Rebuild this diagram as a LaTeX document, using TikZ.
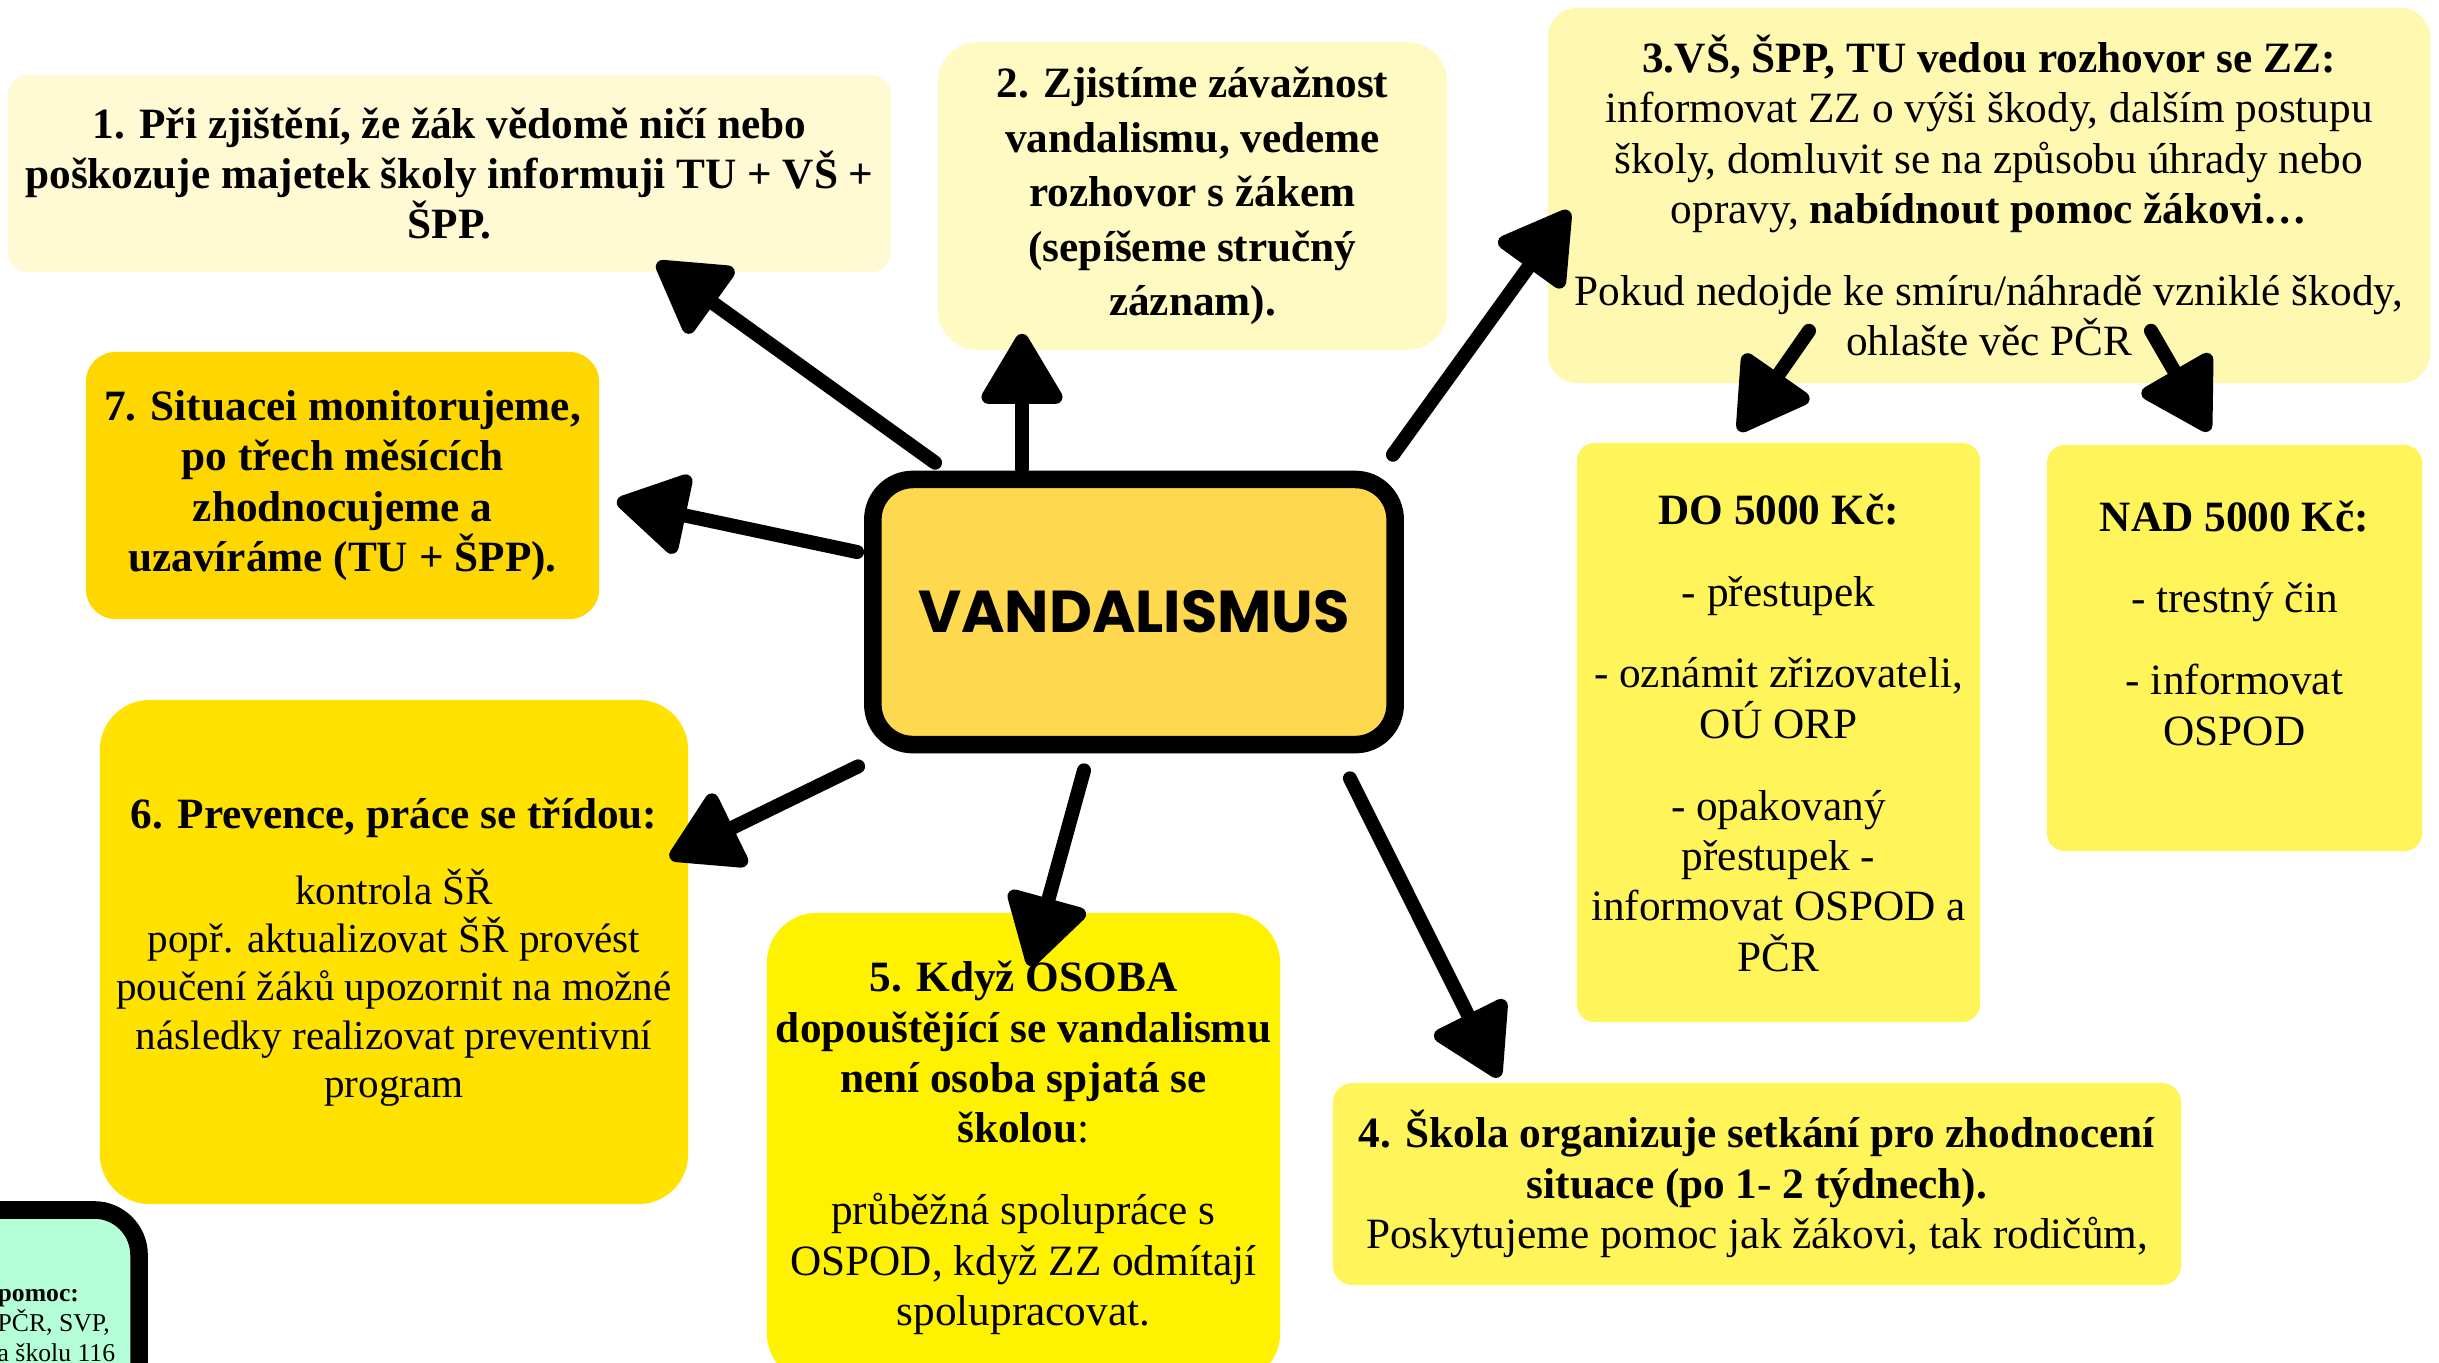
\documentclass[tikz,border=0pt]{standalone}
\usepackage{fontspec}
\setmainfont{Liberation Serif}
\newfontfamily\titlefont{Poppins}
\usetikzlibrary{arrows.meta,calc}

\definecolor{cream}{HTML}{FFFAD4}
\definecolor{paleyellow}{HTML}{FFF9C2}
\definecolor{lightyellow}{HTML}{FFF8B0}
\definecolor{lemon}{HTML}{FFF459}
\definecolor{brightyellow}{HTML}{FFF200}
\definecolor{sunyellow}{HTML}{FFE200}
\definecolor{gold}{HTML}{FFD700}
\definecolor{mustard}{HTML}{FED94F}
\definecolor{mint}{HTML}{B5FFD8}

\tikzset{
  card/.style={rounded corners=#1, inner sep=0pt, align=center,
    font=\fontsize{12.3}{14.3}\selectfont},
  card/.default=0.25cm,
  boldcard/.style={font=\bfseries\fontsize{12.3}{14.3}\selectfont},
  arr/.style={line width=4pt, line cap=round,
    -{Triangle[length=22pt,width=25pt,round]}},
}

\begin{document}
\begin{tikzpicture}[x=0.01cm,y=-0.01cm]
 \useasboundingbox (0,0) rectangle (2439,1362);
 \clip (0,0) rectangle (2439,1362);
 % boxes round the centre
 \node[card=0.2cm, fill=cream, boldcard, minimum width=8.83cm, minimum height=1.97cm] (zjisteni) at (449.5,173.5)
  {1. Při zjištění, že žák vědomě ničí nebo\\poškozuje majetek školy informuji TU + VŠ +\\ŠPP.};
 \node[card=0.4cm, fill=paleyellow, minimum width=5.09cm, minimum height=3.08cm,
  font=\bfseries\fontsize{12.3}{15.5}\selectfont] (zavaznost) at (1192.5,196)
  {2. Zjistíme závažnost\\vandalismu, vedeme\\rozhovor s žákem\\(sepíšeme stručný\\záznam).};
 \node[card=0.3cm, fill=lightyellow, minimum width=8.82cm, minimum height=3.75cm] (rozhovor) at (1989,195.5)
  {\textbf{3.VŠ, ŠPP, TU vedou rozhovor se ZZ:}\\informovat ZZ o výši škody, dalším postupu\\školy, domluvit se na způsobu úhrady nebo\\opravy, \textbf{nabídnout pomoc žákovi…}\\[9pt]
   Pokud nedojde ke smíru/náhradě vzniklé škody,\\ohlašte věc PČR};
 \node[card=0.18cm, fill=lemon, minimum width=4.03cm, minimum height=5.79cm] (do5000) at (1778.5,732.5)
  {\textbf{DO 5000 Kč:}\\[9pt]- přestupek\\[9pt]- oznámit zřizovateli,\\OÚ ORP\\[9pt]- opakovaný\\přestupek -\\informovat OSPOD a\\PČR};
 \node[card=0.18cm, fill=lemon, minimum width=3.75cm, minimum height=4.06cm] (nad5000) at (2234.5,648)
  {\textbf{NAD 5000 Kč:}\\[9pt]- trestný čin\\[9pt]- informovat\\OSPOD\\\mbox{}};
 \node[card=0.2cm, fill=lemon, minimum width=8.48cm, minimum height=2.02cm] (setkani) at (1757,1184)
  {\textbf{4. Škola organizuje setkání pro zhodnocení}\\\textbf{situace (po 1- 2 týdnech).}\\Poskytujeme pomoc jak žákovi, tak rodičům,};
 \node[card=0.5cm, fill=brightyellow, minimum width=5.13cm, minimum height=4.70cm] (osoba) at (1023.5,1148)
  {\textbf{5. Když OSOBA}\\\textbf{dopouštějící se vandalismu}\\\textbf{není osoba spjatá se}\\\textbf{školou}:\\[9pt]průběžná spolupráce s\\OSPOD, když ZZ odmítají\\spolupracovat.};
 \node[card=0.5cm, fill=sunyellow, minimum width=5.88cm, minimum height=5.04cm,
  font=\fontsize{11.7}{13.7}\selectfont] (prevence) at (394,952)
  {{\bfseries\fontsize{12.3}{14.3}\selectfont 6. Prevence, práce se třídou:}\\[8pt]kontrola ŠŘ\\popř. aktualizovat ŠŘ provést\\poučení žáků upozornit na možné\\následky realizovat preventivní\\program};
 \node[card=0.3cm, fill=gold, boldcard, minimum width=5.13cm, minimum height=2.67cm] (monitor) at (342.5,485.5)
  {7. Situacei monitorujeme,\\po třech měsících\\zhodnocujeme a\\uzavíráme (TU + ŠPP).};
 % green box cut by the edge
 \node[draw, line width=5pt, rounded corners=0.45cm, fill=mint, minimum width=2.4cm, minimum height=2.4cm] (pomoc) at (19,1330) {};
 \node[anchor=north west, inner sep=0pt, align=left, font=\fontsize{7.3}{8.5}\selectfont] (pomoctext) at (-3,1289)
  {\textbf{pomoc:}\\PČR, SVP,\\a školu 116};
 % centre
 \node[draw, line width=5pt, rounded corners=0.4cm, fill=mustard, minimum width=5.22cm, minimum height=2.65cm,
  font=\titlefont\bfseries\fontsize{16.8}{18}\selectfont] (vand) at (1134,612) {VANDALISMUS};
 % arrows
 \draw[arr] ($(vand.north west)+(71,-8)$) -- ($(zjisteni.south west)+(650,-10)$);
 \draw[arr] ($(vand.north)+(-112,-2)$) -- ($(zavaznost.south)+(-170.5,-17)$);
 \draw[arr] ($(vand.north east)+(-11,-16)$) -- ($(rozhovor.south west)+(22,-173)$);
 \draw[arr] ($(vand.west)+(-7,-60)$) -- ($(monitor.east)+(17,15.5)$);
 \draw[arr] ($(vand.south west)+(-6,13)$) -- ($(prevence.north east)+(-19,159)$);
 \draw[arr] ($(vand.south)+(-50,17)$) -- ($(osoba.north)+(6.5,54)$);
 \draw[arr] ($(vand.south east)+(-54,25)$) -- ($(setkani.north west)+(167,-5)$);
 \draw[arr] ($(rozhovor.south)+(-180,-53)$) -- ($(do5000.north)+(-39.5,-11)$);
 \draw[arr] ($(rozhovor.south)+(162,-53)$) -- ($(nad5000.north)+(-25.5,-13)$);
\end{tikzpicture}
\end{document}
